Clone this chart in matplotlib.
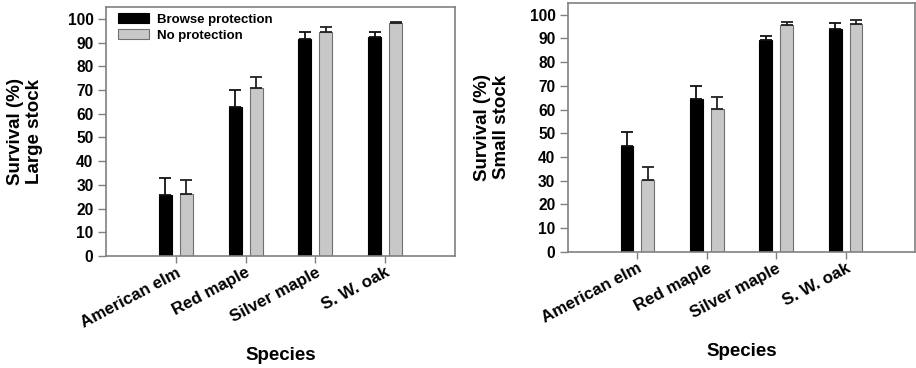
import numpy as np
import matplotlib
matplotlib.use("Agg")
import matplotlib.pyplot as plt

plt.rcParams['font.family'] = ['Liberation Sans', 'DejaVu Sans']
plt.rcParams['font.weight'] = 'bold'

# data
species = ["American elm", "Red maple", "Silver maple", "S. W. oak"]
series = ["Browse protection", "No protection"]

large_browse = [25.9, 62.7, 91.5, 92.5]
large_browse_err = [6.8, 7.2, 3.0, 2.0]
large_none = [26.3, 70.8, 94.4, 98.2]
large_none_err = [5.7, 4.6, 2.1, 0.6]

small_browse = [44.8, 64.6, 89.2, 93.9]
small_browse_err = [5.8, 5.4, 1.8, 2.6]
small_none = [30.1, 60.3, 95.8, 96.2]
small_none_err = [5.8, 4.8, 1.0, 1.7]

BLACK = '#000000'
GRAY = '#c8c8c8'
SPINE = '#808080'


def draw(ax, v1, e1, v2, e2, ylabel, ylab_x):
    x = np.arange(len(species))
    w = 0.185
    off = 0.15
    ax.bar(x - off, v1, w, color=BLACK, edgecolor=BLACK, linewidth=0.8,
           label=series[0], zorder=2)
    ax.bar(x + off, v2, w, color=GRAY, edgecolor='#707070', linewidth=0.8,
           label=series[1], zorder=2)
    ax.errorbar(x - off, v1, yerr=[np.zeros(4), e1], fmt='none', ecolor='#111111',
                elinewidth=1.3, capsize=4, capthick=1.3, zorder=3)
    ax.errorbar(x + off, v2, yerr=[np.zeros(4), e2], fmt='none', ecolor='#222222',
                elinewidth=1.3, capsize=4, capthick=1.3, zorder=3)
    ax.set_xlim(-1.0, 4.0)
    ax.set_ylim(0, 105)
    ax.set_yticks(range(0, 101, 10))
    ax.set_xticks(x)
    ax.set_xticklabels(species, rotation=28, ha='right', rotation_mode='anchor',
                       fontsize=12.2, fontweight='bold')
    for lab in ax.get_yticklabels():
        lab.set_fontsize(11.2)
        lab.set_fontweight('bold')
    ax.tick_params(axis='y', direction='out', length=6, width=1, color=SPINE, pad=3)
    ax.tick_params(axis='x', direction='out', length=5, width=1, color=SPINE, pad=1.5)
    for s in ax.spines.values():
        s.set_color(SPINE)
        s.set_linewidth(1.2)
    ax.set_ylabel(ylabel, fontsize=13.5, fontweight='bold', linespacing=1.15)
    ax.yaxis.set_label_coords(ylab_x, 0.5)
    ax.set_xlabel("Species", fontsize=13.5, fontweight='bold')
    ax.xaxis.set_label_coords(0.5, -0.365)
    ax.xaxis.label.set_va('top')


fig = plt.figure(figsize=(9.16, 3.68), dpi=100)
ax1 = fig.add_axes([0.1157, 0.3043, 0.381, 0.6767])
ax2 = fig.add_axes([0.620, 0.316, 0.379, 0.676])

draw(ax1, large_browse, large_browse_err, large_none, large_none_err,
     "Survival (%)\nLarge stock", -0.18)
draw(ax2, small_browse, small_browse_err, small_none, small_none_err,
     "Survival (%)\nSmall stock", -0.167)

ax1.legend(loc='upper left', bbox_to_anchor=(0.034, 0.975), frameon=False,
           borderpad=0, borderaxespad=0, handlelength=2.35, handleheight=0.8,
           handletextpad=0.6, labelspacing=0.25,
           prop={'size': 9.5, 'weight': 'bold'})

fig.savefig("out.png", dpi=100)
